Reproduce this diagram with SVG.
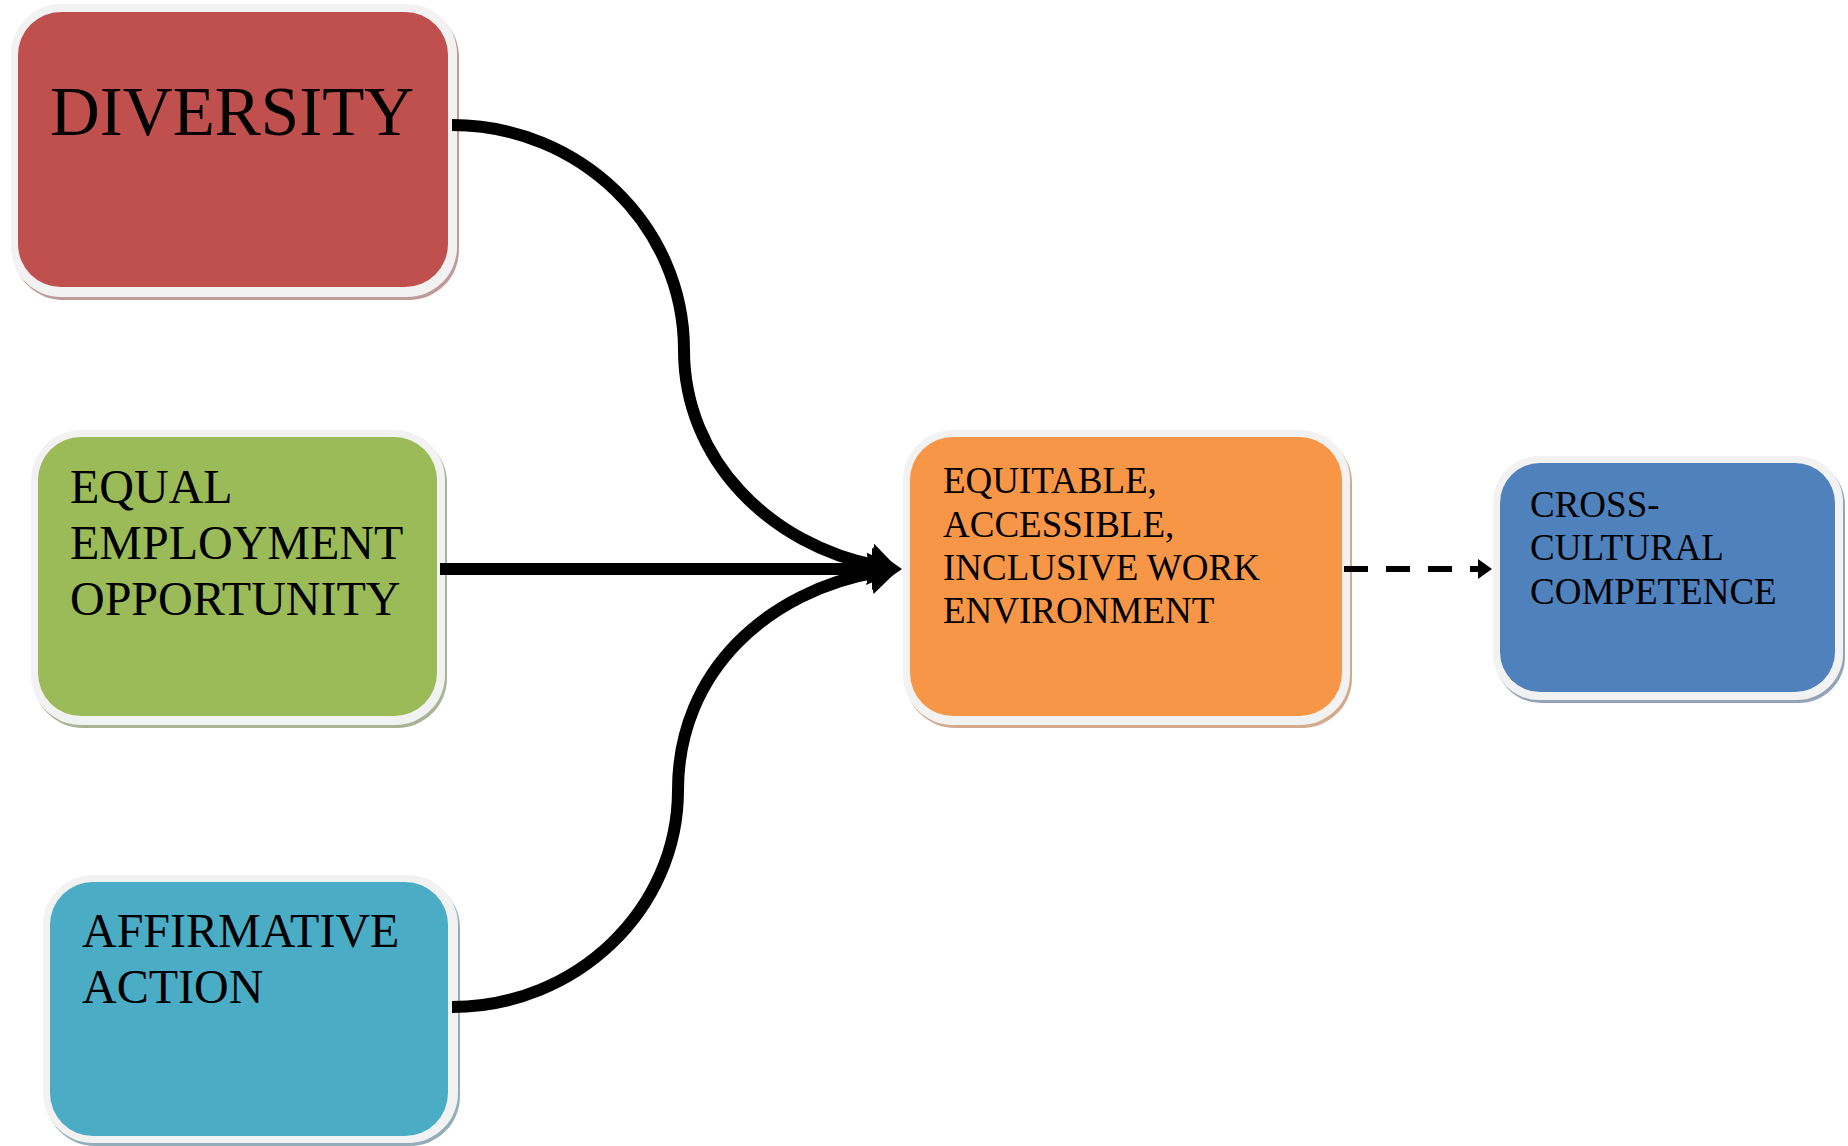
<svg xmlns="http://www.w3.org/2000/svg" width="1848" height="1146" viewBox="0 0 1848 1146">
<defs>
<style>
.frame{fill:#f2f2f2;}
.lbl{font-family:"Liberation Serif","Times New Roman",serif;fill:#000;}
.big{font-size:69px;}
.mid{font-size:48px;}
.sm{font-size:37px;}
.conn{fill:none;stroke:#000;stroke-width:12;}
.dash{fill:none;stroke:#000;stroke-width:6;stroke-dasharray:24 18;}
</style>
<marker id="ah" markerUnits="userSpaceOnUse" markerWidth="32" markerHeight="44" refX="8" refY="22" orient="auto">
<path d="M0,1 L30,22 L0,43 z" fill="#000"/>
</marker>
<marker id="ahs" markerUnits="userSpaceOnUse" markerWidth="16" markerHeight="22" refX="0" refY="11" orient="auto">
<path d="M0,1 L14,11 L0,21 z" fill="#000"/>
</marker>
</defs>

<g id="node-diversity">
<rect x="13" y="7" width="446" height="293" rx="50" fill="#bf9a9a"/>
<rect class="frame" x="11" y="4" width="446" height="293" rx="50"/>
<rect x="18" y="12" width="430" height="275" rx="43" fill="#c0504d"/>
<text class="lbl big" x="50" y="135">DIVERSITY</text>
</g>

<g id="node-eeo">
<rect x="33" y="433" width="414" height="295" rx="50" fill="#a9b394"/>
<rect class="frame" x="31" y="430" width="414" height="295" rx="50"/>
<rect x="38" y="437" width="399" height="279" rx="43" fill="#9bbb59"/>
<text class="lbl mid" x="70" y="503">EQUAL</text>
<text class="lbl mid" x="70" y="559">EMPLOYMENT</text>
<text class="lbl mid" x="70" y="615">OPPORTUNITY</text>
</g>

<g id="node-affirmative">
<rect x="45" y="878" width="415" height="268" rx="50" fill="#93aeb8"/>
<rect class="frame" x="43" y="875" width="415" height="268" rx="50"/>
<rect x="50" y="882" width="398" height="254" rx="43" fill="#4bacc6"/>
<text class="lbl mid" x="82" y="947">AFFIRMATIVE</text>
<text class="lbl mid" x="82" y="1003">ACTION</text>
</g>

<g id="node-environment">
<rect x="905" y="433" width="447" height="295" rx="50" fill="#d4aa8c"/>
<rect class="frame" x="903" y="430" width="447" height="295" rx="50"/>
<rect x="910" y="437" width="432" height="279" rx="43" fill="#f79646"/>
<text class="lbl sm" x="943" y="493">EQUITABLE,</text>
<text class="lbl sm" x="943" y="537">ACCESSIBLE,</text>
<text class="lbl sm" x="943" y="580">INCLUSIVE WORK</text>
<text class="lbl sm" x="943" y="623">ENVIRONMENT</text>
</g>

<g id="node-competence">
<rect x="1495" y="459" width="350" height="244" rx="46" fill="#94a3b8"/>
<rect class="frame" x="1493" y="456" width="350" height="244" rx="46"/>
<rect x="1500" y="463" width="335" height="229" rx="40" fill="#4f81bd"/>
<text class="lbl sm" x="1530" y="517">CROSS-</text>
<text class="lbl sm" x="1530" y="560">CULTURAL</text>
<text class="lbl sm" x="1530" y="604">COMPETENCE</text>
</g>

<g id="connectors">
<path class="conn" d="M452,125 C580,125 684,226 684,350 C684,460 770,545 878,566" marker-end="url(#ah)"/>
<path class="conn" d="M440,569 L880,569" marker-end="url(#ah)"/>
<path class="conn" d="M452,1007 C576,1007 678,910 678,790 C678,670 770,590 878,572" marker-end="url(#ah)"/>
<path class="dash" d="M1344,569 L1478,569" marker-end="url(#ahs)"/>
</g>
</svg>
